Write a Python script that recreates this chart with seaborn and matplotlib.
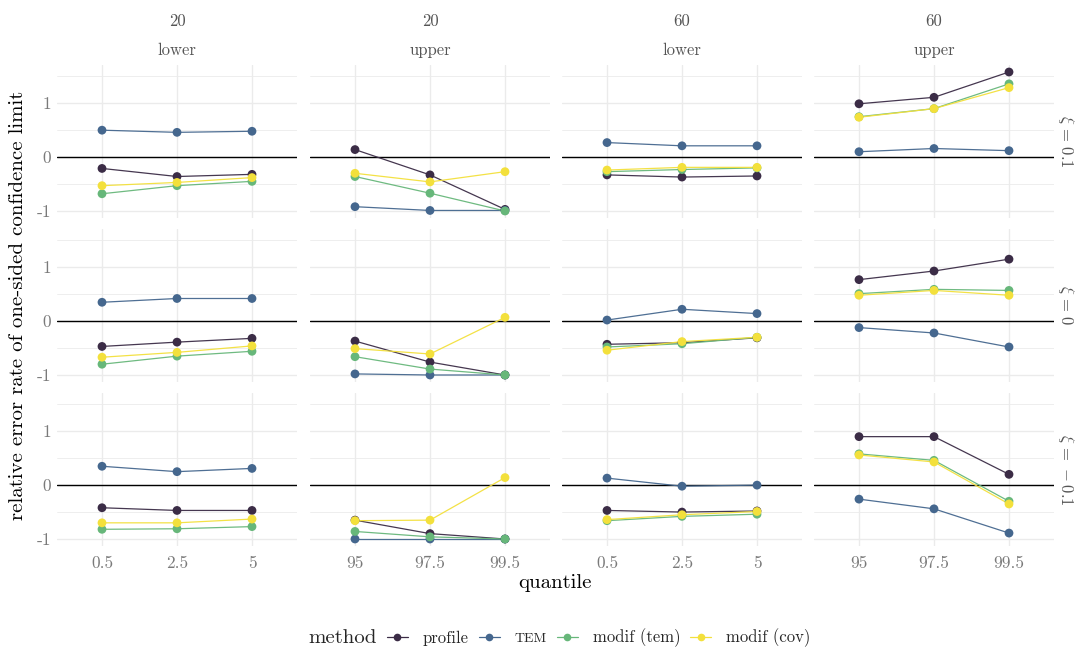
import numpy as np
import pandas as pd
import matplotlib
matplotlib.use("Agg")
import matplotlib.pyplot as plt
from matplotlib.lines import Line2D
import seaborn as sns

# ---------------- data ----------------
methods = ["profile", "TEM", "modif (tem)", "modif (cov)"]
colors = ["#3b2c46", "#45678e", "#67b77a", "#f3e03c"]
xi_levels = ["0.1", "0", "-0.1"]
xi_labels = [r"$\xi\,=\,0.1$", r"$\xi\,=\,0$", r"$\xi\,=\,-0.1$"]
n_levels = ["20", "20", "60", "60"]
side_levels = ["lower", "upper", "lower", "upper"]
q_lower = ["0.5", "2.5", "5"]
q_upper = ["95", "97.5", "99.5"]

# each list: 4 columns (20 lower, 20 upper, 60 lower, 60 upper) x 3 quantiles
xi01_profile = [-0.21, -0.36, -0.32, 0.14, -0.33, -0.97, -0.33, -0.37, -0.35, 0.99, 1.11, 1.58]
xi01_tem = [0.50, 0.46, 0.48, -0.92, -0.99, -0.99, 0.27, 0.21, 0.21, 0.10, 0.16, 0.12]
xi01_modif_tem = [-0.68, -0.53, -0.45, -0.36, -0.67, -1.00, -0.27, -0.23, -0.20, 0.75, 0.90, 1.36]
xi01_modif_cov = [-0.53, -0.47, -0.38, -0.30, -0.46, -0.27, -0.24, -0.19, -0.19, 0.74, 0.90, 1.29]

xi0_profile = [-0.47, -0.39, -0.32, -0.37, -0.76, -1.00, -0.43, -0.40, -0.31, 0.77, 0.93, 1.15]
xi0_tem = [0.35, 0.42, 0.42, -0.98, -1.00, -1.00, 0.02, 0.22, 0.14, -0.12, -0.22, -0.48]
xi0_modif_tem = [-0.80, -0.65, -0.56, -0.66, -0.89, -1.00, -0.48, -0.42, -0.30, 0.51, 0.59, 0.57]
xi0_modif_cov = [-0.67, -0.58, -0.46, -0.51, -0.61, 0.07, -0.54, -0.38, -0.30, 0.48, 0.57, 0.48]

xim01_profile = [-0.42, -0.47, -0.47, -0.65, -0.90, -1.00, -0.47, -0.50, -0.48, 0.90, 0.90, 0.20]
xim01_tem = [0.35, 0.25, 0.31, -1.00, -1.00, -1.00, 0.13, -0.02, 0.00, -0.26, -0.44, -0.89]
xim01_modif_tem = [-0.82, -0.81, -0.77, -0.86, -0.96, -1.00, -0.66, -0.58, -0.54, 0.58, 0.46, -0.30]
xim01_modif_cov = [-0.70, -0.70, -0.63, -0.66, -0.65, 0.14, -0.64, -0.55, -0.49, 0.56, 0.43, -0.35]

values = {
    "0.1": [xi01_profile, xi01_tem, xi01_modif_tem, xi01_modif_cov],
    "0": [xi0_profile, xi0_tem, xi0_modif_tem, xi0_modif_cov],
    "-0.1": [xim01_profile, xim01_tem, xim01_modif_tem, xim01_modif_cov],
}

rows = []
for xi in xi_levels:
    for m, vals in zip(methods, values[xi]):
        for c in range(4):
            qs = q_lower if side_levels[c] == "lower" else q_upper
            for k, q in enumerate(qs):
                rows.append(dict(xi=xi, col=c, method=m, quantile=q, value=vals[3 * c + k]))
df = pd.DataFrame(rows)

# ---------------- style ----------------
sns.set_theme(style="white")
plt.rcParams["font.family"] = ["cmr10", "DejaVu Serif"]
plt.rcParams["mathtext.fontset"] = "cm"
plt.rcParams["axes.unicode_minus"] = False
plt.rcParams["axes.formatter.use_mathtext"] = True

W, H = 1085, 648
fig = plt.figure(figsize=(W / 100, H / 100), dpi=100)

col_left = [57, 310, 562, 814]
col_w = 240
row_top = [65, 229, 393]
row_h = 153
palette = dict(zip(methods, colors))
grid_col = "#ebebeb"
tick_col = "#7a7a7a"
strip_col = "#555555"

for r, xi in enumerate(xi_levels):
    for c in range(4):
        ax = fig.add_axes([col_left[c] / W, 1 - (row_top[r] + row_h) / H, col_w / W, row_h / H])
        sub = df[(df.xi == xi) & (df.col == c)]
        qs = q_lower if side_levels[c] == "lower" else q_upper
        ax.axhline(0, color="black", lw=1.0, zorder=1.5)
        sns.lineplot(data=sub, x="quantile", y="value", hue="method", hue_order=methods,
                     palette=palette, sort=False, lw=0.9, alpha=0.95, legend=False,
                     ax=ax, zorder=2)
        sns.scatterplot(data=sub, x="quantile", y="value", hue="method", hue_order=methods,
                        palette=palette, s=40, linewidth=0, legend=False, ax=ax, zorder=3)
        ax.set_xlim(-0.6, 2.6)
        ax.set_ylim(-1.13, 1.71)
        ax.set_yticks([-1, 0, 1])
        ax.set_yticks([-0.5, 0.5, 1.5], minor=True)
        ax.set_xticks(range(3))
        ax.grid(True, which="major", color=grid_col, lw=1.0, zorder=0)
        ax.grid(True, which="minor", axis="y", color=grid_col, lw=0.6, zorder=0)
        ax.set_axisbelow(True)
        for s in ax.spines.values():
            s.set_visible(False)
        ax.tick_params(length=0, colors=tick_col, labelsize=12.5, pad=4)
        ax.set_xlabel("")
        ax.set_ylabel("")
        if c == 0:
            ax.set_yticklabels(["-1", "0", "1"])
        else:
            ax.set_yticklabels([])
        if r == 2:
            ax.set_xticklabels(qs)
            ax.tick_params(axis="x", pad=7)
        else:
            ax.set_xticklabels([])
        if r == 0:
            cx = (col_left[c] + col_w / 2) / W
            fig.text(cx, 1 - 21 / H, n_levels[c], ha="center", va="center",
                     fontsize=12, color=strip_col)
            fig.text(cx, 1 - 50 / H, side_levels[c], ha="center", va="center",
                     fontsize=12, color=strip_col)
        if c == 3:
            fig.text(1066 / W, 1 - (row_top[r] + row_h / 2) / H, xi_labels[r],
                     rotation=-90, ha="center", va="center", fontsize=12, color=strip_col)

fig.text(18 / W, 1 - 305 / H, "relative error rate of one-sided confidence limit",
         rotation=90, ha="center", va="center", fontsize=15, color="black")
fig.text(555 / W, 1 - 583 / H, "quantile", ha="center", va="center",
         fontsize=15, color="black")

# legend
fig.text(308 / W, 1 - 638 / H, "method", ha="left", va="center", fontsize=15)
handles = [Line2D([0], [0], color=col, lw=0.9, marker="o", markersize=5.5,
                  markeredgewidth=0) for col in colors]
leg = fig.legend(handles, methods, loc="center left",
                 bbox_to_anchor=(387 / W, 1 - 638 / H), ncol=4, frameon=False,
                 fontsize=12, handlelength=1.25, handletextpad=0.9,
                 columnspacing=0.6, borderpad=0, borderaxespad=0)
for t in leg.get_texts():
    if t.get_text() == "TEM":
        t.set_fontsize(10)

fig.savefig("out.png", dpi=100)
